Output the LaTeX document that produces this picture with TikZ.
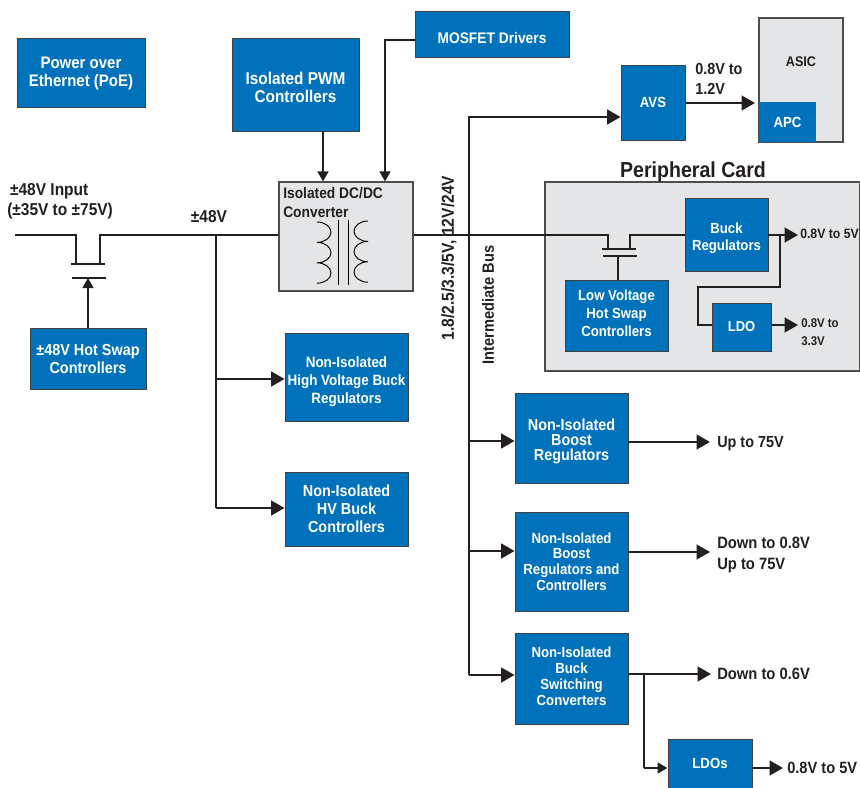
\documentclass[tikz,border=0pt]{standalone}
\usepackage{fontspec}
\setmainfont[FakeStretch=0.9]{Liberation Sans}
\usetikzlibrary{arrows.meta,calc}
\definecolor{blkblue}{HTML}{0072BC}
\definecolor{cardgrey}{HTML}{E4E5E7}
\definecolor{inkdark}{HTML}{231F20}
\newcommand{\tdn}[1]{\rule{0pt}{#1pt}}
\newcommand{\tup}[1]{\rule[-#1pt]{0pt}{#1pt}}
\begin{document}
\begin{tikzpicture}[
  x=0.75pt, y=-0.75pt,
  font=\bfseries\fontsize{12}{13.5}\selectfont, text=inkdark,
  fs/.style 2 args={font=\bfseries\fontsize{#1}{#2}\selectfont},
  blk/.style 2 args={draw=black!75, line width=0.7pt, fill=blkblue, text=white, align=center, inner sep=0pt,
             minimum width=#1*0.75pt, minimum height=#2*0.75pt},
  greybox/.style 2 args={draw=black!70, line width=0.8pt, fill=cardgrey, inner sep=0pt,
             minimum width=#1*0.75pt, minimum height=#2*0.75pt},
  lbl/.style={inner sep=0pt, align=left, anchor=west},
  wire/.style={draw=inkdark, line width=1.7pt},
  flow/.style={wire, -{Triangle[length=10pt,width=11pt]}},
  flowsm/.style={wire, -{Triangle[length=7.5pt,width=8pt]}},
  coil/.style={line width=0.7pt}
]
\useasboundingbox (0,0) rectangle (860,788);
% grey panels first
\node[greybox={315}{189}] (card) at (702.5,276.5) {};
\node[greybox={84}{124}] (asic) at (801,80) {};
\node[greybox={134}{109}] (dcdc) at (346,236.5) {};
\node[fs={16.3}{18}] (cardtitle) at (693,171.5) {Peripheral Card};
\node[inner sep=0pt, fs={10.5}{13}] (asictxt) at (801,62) {ASIC};
\node[lbl, fs={11.5}{14}] (dcdctxt) at (283,202.5) {Isolated DC/DC\\Converter};
% blocks
\node[blk={128}{69}, fs={12.5}{13.5}] (poe) at (81,72.5) {\tdn{10.5}Power over\\Ethernet (PoE)};
\node[blk={127}{93}, fs={12.8}{13.5}] (pwm) at (295.5,84.5) {\tdn{13.5}Isolated PWM\\Controllers};
\node[blk={154}{46}, fs={11.5}{13.5}] (mosfet) at (492,34) {\tdn{14}MOSFET Drivers};
\node[blk={64}{75}, fs={11}{13}] (avs) at (653,102.5) {AVS};
\node[blk={57}{40}, draw=none, fs={11}{13}] (apc) at (787.5,122) {APC};
\node[blk={83}{73}, fs={11}{12.8}] (buckreg) at (726.5,234.5) {\tdn{14}Buck\\Regulators};
\node[blk={103}{71}, fs={11}{13.5}] (lvswap) at (616.5,315.5) {Low Voltage\\Hot Swap\\Controllers\tup{3}};
\node[blk={59}{48}, fs={10.8}{13}] (ldo) at (741.5,327) {LDO};
\node[blk={116}{61}] (hvswap) at (88,358.5) {±48V Hot Swap\\Controllers};
\node[blk={123}{88}, fs={11.2}{13.5}] (hvreg) at (346.5,377) {\tdn{15}Non-Isolated\\High Voltage Buck\\Regulators};
\node[blk={123}{74}] (hvctl) at (346.5,509) {Non-Isolated\\HV Buck\\Controllers};
\node[blk={113}{90}, fs={12}{11.3}] (boost) at (571.5,438) {\tdn{13.5}Non-Isolated\\Boost\\Regulators};
\node[blk={113}{99}, fs={11}{11.8}] (boostctl) at (571.5,561.5) {Non-Isolated\\Boost\\Regulators and\\Controllers};
\node[blk={113}{91}, fs={11}{12}] (bucksw) at (571.5,678.5) {Non-Isolated\\Buck\\Switching\\Converters\tup{3}};
\node[blk={84}{49}, fs={11}{13}] (ldos) at (710,763.5) {LDOs};
% helper points
\coordinate (inl) at (15,235);
\coordinate (fetal) at (76,235);
\coordinate (fetar) at (100,235);
\coordinate (hvtap) at (216,235);
\coordinate (hvtapa) at (216,379);
\coordinate (hvtapb) at (216,508);
\coordinate (bustop) at (469,117);
\coordinate (busmid) at (469,235);
\coordinate (busa) at (469,441);
\coordinate (busb) at (469,551);
\coordinate (busc) at (469,675);
\coordinate (fetbl) at (608,235);
\coordinate (fetbr) at (630,235);
\coordinate (bucktap) at (780,235);
\coordinate (swtap) at (644,674);
\coordinate (boostout) at (710,442);
\coordinate (boostctlout) at (710,552);
\coordinate (swout) at (711,674);
\coordinate (buckout) at (798,235);
\coordinate (ldoout) at (798,325);
\coordinate (avsout) at (755,103);
\coordinate (ldosout) at (783,768);
% input switch
\draw[wire] (inl) -- (fetal) -- (76,264);
\draw[wire] (dcdc.west |- hvtap) -- (fetar) -- (100,264);
\draw[wire] (71,264) -- (105,264);
\draw[wire] (72,278) -- (106,278);
\draw[flowsm] (hvswap.north) -- (88,278);
% 48V branches
\draw[wire] (hvtap) -- (hvtapb);
\draw[flow] (hvtapa) -- (hvtapa -| hvreg.west);
\draw[flow] (hvtapb) -- (hvtapb -| hvctl.west);
% transformer
\draw[coil] (317,222) arc[start angle=-90,end angle=90,x radius=14,y radius=10.2] arc[start angle=-90,end angle=90,x radius=14,y radius=10.2] arc[start angle=-90,end angle=90,x radius=14,y radius=10.2];
\draw[coil] (368,221) arc[start angle=-90,end angle=-270,x radius=14,y radius=10.2] arc[start angle=-90,end angle=-270,x radius=14,y radius=10.2] arc[start angle=-90,end angle=-270,x radius=14,y radius=10.2];
\draw[coil] (338.5,220) -- (338.5,285);
\draw[coil] (348,220) -- (348,285);
\draw[flowsm] (pwm.south -| 323,0) -- (dcdc.north -| 323,0);
\draw[flowsm] (mosfet.west |- 0,40) -- (385,40) -- (dcdc.north -| 385,0);
% intermediate bus
\draw[wire] (dcdc.east |- busmid) -- (fetbl) -- (608,249);
\draw[wire] (buckreg.west |- fetbr) -- (fetbr) -- (630,249);
\draw[wire] (602,249) -- (636,249);
\draw[wire] (603,256) -- (637,256);
\draw[wire] (lvswap.north -| 618,0) -- (618,256);
\draw[flow] (busc) -- (bustop) -- (bustop -| avs.west);
\draw[flow] (busa) -- (busa -| boost.west);
\draw[flow] (busb) -- (busb -| boostctl.west);
\draw[flow] (busc) -- (busc -| bucksw.west);
% outputs
\draw[flow] (avs.east |- avsout) -- (avsout);
\draw[flow] (buckreg.east |- buckout) -- (buckout);
\draw[wire] (bucktap) -- (780,287) -- (698,287) -- (698,325) -- (ldo.west |- ldoout);
\draw[flow] (ldo.east |- ldoout) -- (ldoout);
\draw[flow] (boost.east |- boostout) -- (boostout);
\draw[flow] (boostctl.east |- boostctlout) -- (boostctlout);
\draw[flow] (bucksw.east |- swout) -- (swout);
\draw[wire] (swtap) -- (644,768);
\draw[flowsm] (644,768) -- (ldos.west |- 0,768);
\draw[flow] (ldos.east |- ldosout) -- (ldosout);
% labels
\node[lbl, fs={12.9}{15}] (inlbl) at (7,201) {\,±48V Input\\(±35V to ±75V)};
\node[inner sep=0pt, fs={12.9}{15}] (buslbl) at (209,217) {±48V};
\node[lbl, fs={12}{15}] (avsv) at (695,79) {0.8V to\\1.2V};
\node[lbl, fs={10.2}{13.5}] (buckv) at (800,234) {0.8V to 5V};
\node[lbl, fs={9.5}{13.5}] (ldov) at (801,332) {0.8V to\\3.3V};
\node[lbl] (boostv) at (717,443.5) {Up to 75V};
\node[lbl, fs={12.3}{15.75}] (boostctlv) at (717,555) {Down to 0.8V\\Up to 75V};
\node[lbl, fs={12.3}{15}] (swv) at (717,674) {Down to 0.6V};
\node[lbl, fs={12.2}{15}] (ldosv) at (787,768) {0.8V to 5V};
\node[inner sep=0pt, rotate=90, fs={13}{15}] (railsv) at (449,258) {1.8/2.5/3.3/5V, 12V/24V};
\node[inner sep=0pt, rotate=90, fs={12.2}{15}] (railname) at (488,305) {Intermediate Bus};
\end{tikzpicture}
\end{document}
